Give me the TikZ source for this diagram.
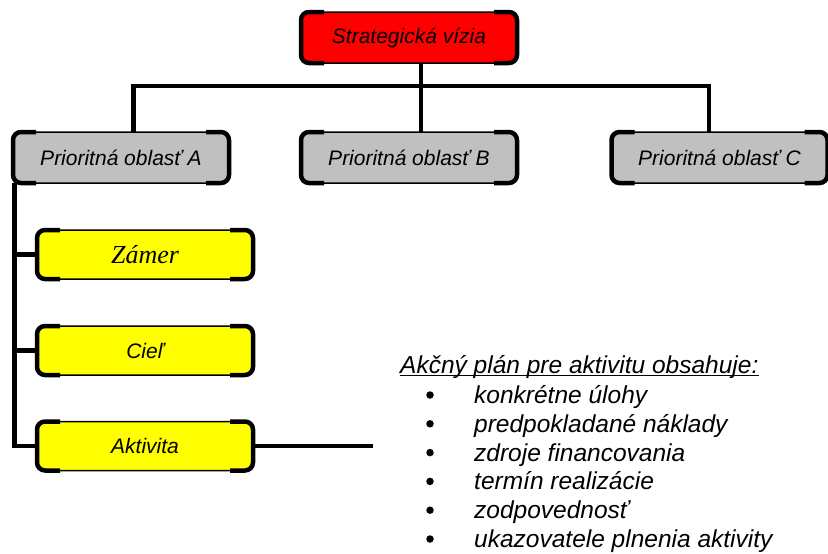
\documentclass[tikz,border=0pt]{standalone}
\usepackage{fontspec}
\setmainfont{Liberation Sans}
\newfontfamily\timesfont{Liberation Serif}
\definecolor{boxred}{HTML}{FF0000}
\definecolor{boxgray}{HTML}{C0C0C0}
\definecolor{boxyellow}{HTML}{FFFF00}
\newcommand\thickcorners[1]{%
  \begin{scope}
    \clip ([xshift=-6pt,yshift=6pt]#1.north west) rectangle ([xshift=23pt,yshift=-6pt]#1.south west)
          ([xshift=-23pt,yshift=6pt]#1.north east) rectangle ([xshift=6pt,yshift=-6pt]#1.south east);
    \draw[line width=4.5pt, rounded corners=8pt] (#1.north west) rectangle (#1.south east);
  \end{scope}}
\tikzset{
  box/.style={draw, line width=1.5pt, rounded corners=8pt, minimum width=216pt,
    inner sep=0pt, outer sep=0pt, font=\fontsize{21}{25}\selectfont\itshape},
  conn/.style={line width=4.5pt},
  listtext/.style={anchor=base west, inner sep=0pt, font=\fontsize{24.5}{28}\selectfont\itshape},
  bul/.style={circle, fill, inner sep=0pt, minimum size=7.5pt}
}
\begin{document}
\begin{tikzpicture}[x=1pt,y=-1pt]
\useasboundingbox (0,0) rectangle (828,554);
\node[box, fill=boxred, minimum height=51pt] (vis) at (409,37.5) {Strategická vízia};
\node[box, fill=boxgray, minimum height=51pt] (A) at (121,157.5) {Prioritná oblasť A};
\node[box, fill=boxgray, minimum height=51pt] (B) at (409,157.5) {Prioritná oblasť B};
\node[box, fill=boxgray, minimum height=51pt] (C) at (719.5,157.5) {Prioritná oblasť C};
\node[box, fill=boxyellow, minimum height=49pt, font=\fontsize{26}{30}\selectfont\timesfont\itshape] (zam) at (145,254.5) {Zámer};
\node[box, fill=boxyellow, minimum height=49pt] (ciel) at (145,350.5) {Cieľ};
\node[box, fill=boxyellow, minimum height=49pt] (akt) at (145,446) {Aktivita};
\foreach \n in {vis,A,B,C,zam,ciel,akt} {\thickcorners{\n}}
\coordinate (bus) at (421,86);
\coordinate (aend) at (373,446);
\draw[conn] ([xshift=12pt]vis.south) -- ([xshift=12pt]B.north);
\draw[conn] ([xshift=12.5pt]A.north) |- (bus) -| ([xshift=-10.5pt]C.north);
\coordinate (lv) at ([xshift=1.5pt]A.south west);
\draw[conn] (lv) |- (akt.west);
\draw[conn] (zam.west) -- (zam.west -| lv);
\draw[conn] (ciel.west) -- (ciel.west -| lv);
\draw[conn] (akt.east) -- (aend);
% action plan text
\node[listtext] (title) at (400,373) {Akčný plán pre aktivitu obsahuje:};
\draw[line width=1.3pt] ([yshift=-2.5pt]title.base west) -- ([yshift=-2.5pt]title.base east);
\foreach \t [count=\i from 0] in {konkrétne úlohy, predpokladané náklady, zdroje financovania, termín realizácie, zodpovednosť, ukazovatele plnenia aktivity} {
  \node[bul] (b\i) at (430,395+28.8*\i) {};
  \node[listtext] (l\i) at (474,403.5+28.8*\i) {\t};
}
\end{tikzpicture}
\end{document}
